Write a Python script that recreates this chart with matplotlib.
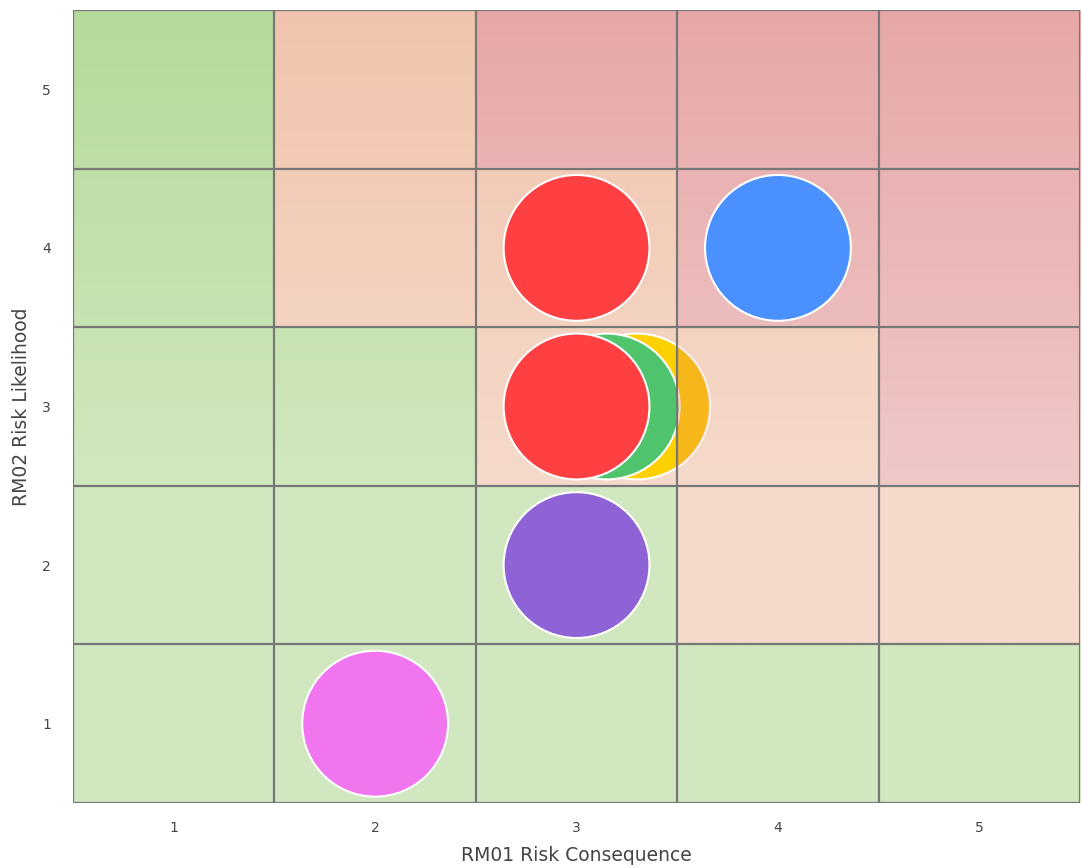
import numpy as np
import matplotlib
matplotlib.use("Agg")
import matplotlib.pyplot as plt
from matplotlib.patches import Rectangle, Circle
from matplotlib.transforms import IdentityTransform

# risk matrix zones: 0 = low (green), 1 = medium (orange), 2 = high (red)
# rows are likelihood 1..5 (bottom to top), columns consequence 1..5
zones = [
    [0, 0, 0, 0, 0],
    [0, 0, 0, 1, 1],
    [0, 0, 1, 1, 2],
    [0, 1, 1, 2, 2],
    [0, 1, 2, 2, 2],
]
zone_colors = [(102, 178, 42), (225, 132, 82), (205, 72, 72)]

# risks: consequence, likelihood, colour (drawn in this order)
risk_x = [3.3, 3.15, 3.0, 3.0, 4.0, 3.0, 2.0]
risk_y = [3, 3, 3, 4, 4, 2, 1]
risk_colors = ["#FFD000", "#4FC46D", "#FF4043", "#FF4043", "#4A90FF", "#8E63D6", "#F075EE"]

ticks = [1, 2, 3, 4, 5]

fig = plt.figure(figsize=(10.82, 8.68), dpi=100)
ax = fig.add_axes([0.0675, 0.0749, 0.9307, 0.9136])

# background: each cell is a translucent colour over white, getting stronger toward the top
ny, nx = 800, 500
yy = np.linspace(5.5, 0.5, ny)
xx = np.linspace(0.5, 5.5, nx)
alpha0 = 0.3
t = np.clip((yy - 2.5) / 3.0, 0, 1)
alpha = alpha0 * (1 + 0.6 * t)
img = np.ones((ny, nx, 3))
for i, y in enumerate(yy):
    r = min(int(np.floor(y - 0.5)), 4)
    for c in range(5):
        col = np.array(zone_colors[zones[r][c]]) / 255.0
        sel = (xx >= c + 0.5) & (xx <= c + 1.5)
        img[i, sel] = 1 * (1 - alpha[i]) + col * alpha[i]
ax.imshow(img, extent=[0.5, 5.5, 0.5, 5.5], aspect="auto", zorder=0, interpolation="bilinear")

ax.set_xlim(0.5, 5.5)
ax.set_ylim(0.5, 5.5)

# bubbles
msize = 105
ax.scatter(risk_x, risk_y, s=msize ** 2, c=risk_colors, edgecolors="white", linewidths=1.5, zorder=2)

# the (4, 3) cell sits over the edge of the first bubble
over = Rectangle((3.5, 2.5), 1, 1, facecolor=np.array(zone_colors[1]) / 255.0,
                 alpha=0.32, edgecolor="none", zorder=3)
ax.add_patch(over)
fig.canvas.draw()
cx, cy = ax.transData.transform((risk_x[0], risk_y[0]))
r_px = msize / 2 * fig.dpi / 72.0
over.set_clip_path(Circle((cx, cy), r_px, transform=IdentityTransform()))

# grid lines between cells
for v in np.arange(0.5, 6.0, 1.0):
    ax.axvline(v, color="#777777", lw=1.6, zorder=4)
    ax.axhline(v, color="#777777", lw=1.6, zorder=4)

ax.set_xticks(ticks)
ax.set_yticks(ticks)
ax.tick_params(axis="x", length=0, labelsize=10, labelcolor="#444444", pad=13)
ax.tick_params(axis="y", length=0, labelsize=10, labelcolor="#444444", pad=16)
for s in ax.spines.values():
    s.set_visible(False)

ax.set_xlabel("RM01 Risk Consequence", fontsize=13.5, color="#444444", labelpad=8)
ax.set_ylabel("RM02 Risk Likelihood", fontsize=13.5, color="#444444", labelpad=8)

fig.savefig("out.png", dpi=100)
